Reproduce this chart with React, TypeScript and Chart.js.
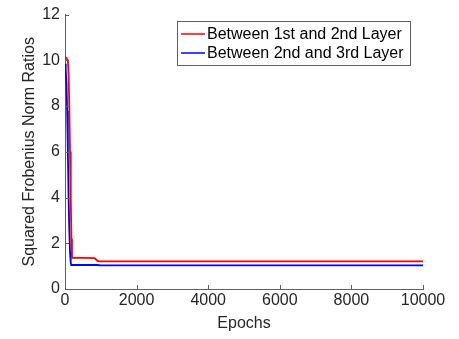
import React, { useEffect, useRef } from "react";
import { Chart, registerables } from "chart.js";

Chart.register(...registerables);

const seriesNames = ["Between 1st and 2nd Layer", "Between 2nd and 3rd Layer"];
const seriesColors = ["#ff0000", "#0000ff"];

const redEpochs = [0, 40, 80, 100, 120, 140, 160, 180, 195, 210, 500, 820, 860, 900, 940, 1000, 10000];
const redValues = [10.15, 10.1, 10.0, 9.4, 8.0, 6.0, 4.0, 2.2, 1.4, 1.36, 1.36, 1.35, 1.3, 1.24, 1.21, 1.21, 1.21];

const blueEpochs = [0, 20, 40, 60, 80, 100, 120, 140, 160, 175, 900, 1000, 10000];
const blueValues = [9.85, 9.6, 9.0, 7.8, 6.0, 4.0, 2.6, 1.6, 1.15, 1.05, 1.05, 1.03, 1.03];

const xTicks = [0, 2000, 4000, 6000, 8000, 10000];
const yTicks = [0, 2, 4, 6, 8, 10, 12];

const FONT = "'Liberation Sans', Arial, Helvetica, sans-serif";
const TEXT = "#262626";
const AXIS = "#606060";

const toPoints = (xs: number[], ys: number[]) => xs.map((x, i) => ({ x, y: ys[i] }));

const inwardTicks = {
  id: "inwardTicks",
  afterDatasetsDraw(chart: any) {
    const { ctx, chartArea, scales } = chart;
    ctx.save();
    ctx.strokeStyle = AXIS;
    ctx.lineWidth = 1;
    ctx.beginPath();
    xTicks.forEach((v) => {
      const px = Math.round(scales.x.getPixelForValue(v)) + 0.5;
      ctx.moveTo(px, chartArea.bottom);
      ctx.lineTo(px, chartArea.bottom - 4);
    });
    yTicks.forEach((v) => {
      const py = Math.round(scales.y.getPixelForValue(v)) + 0.5;
      ctx.moveTo(chartArea.left, py);
      ctx.lineTo(chartArea.left + 4, py);
    });
    ctx.stroke();
    ctx.restore();
  },
};

const boxLegend = {
  id: "boxLegend",
  afterDatasetsDraw(chart: any) {
    const { ctx } = chart;
    const x0 = 177.5, y0 = 21.5, w = 233, h = 44;
    ctx.save();
    ctx.fillStyle = "#ffffff";
    ctx.fillRect(x0, y0, w, h);
    ctx.strokeStyle = AXIS;
    ctx.lineWidth = 1;
    ctx.strokeRect(x0, y0, w, h);
    ctx.font = `16px ${FONT}`;
    ctx.textBaseline = "middle";
    ctx.textAlign = "left";
    seriesNames.forEach((name, i) => {
      const yy = 34 + i * 19;
      ctx.strokeStyle = seriesColors[i];
      ctx.lineWidth = 1.5;
      ctx.beginPath();
      ctx.moveTo(181, yy);
      ctx.lineTo(205, yy);
      ctx.stroke();
      ctx.fillStyle = "#000000";
      ctx.fillText(name, 207, yy + 1);
    });
    ctx.restore();
  },
};

export default function App() {
  const ref = useRef<HTMLCanvasElement>(null);
  useEffect(() => {
    if (!ref.current) return;
    const chart = new Chart(ref.current, {
      type: "line",
      data: {
        datasets: [
          {
            label: seriesNames[0],
            data: toPoints(redEpochs, redValues),
            borderColor: seriesColors[0],
            borderWidth: 1.8,
            pointRadius: 0,
            tension: 0,
          },
          {
            label: seriesNames[1],
            data: toPoints(blueEpochs, blueValues),
            borderColor: seriesColors[1],
            borderWidth: 1.8,
            pointRadius: 0,
            tension: 0,
          },
        ],
      },
      options: {
        animation: false,
        responsive: false,
        maintainAspectRatio: false,
        layout: { padding: { top: 13, right: 36, left: 0, bottom: 0 } },
        plugins: { legend: { display: false }, tooltip: { enabled: false } },
        scales: {
          x: {
            type: "linear",
            min: 0,
            max: 10000,
            afterFit: (s: any) => { s.height = 50; },
            afterBuildTicks: (s: any) => { s.ticks = xTicks.map((v) => ({ value: v })); },
            grid: { display: false, drawTicks: false },
            border: { display: true, color: AXIS, width: 1 },
            ticks: { color: TEXT, font: { family: FONT, size: 16 }, padding: 2, maxRotation: 0, callback: (v: any) => String(v) },
            title: { display: true, text: "Epochs", color: TEXT, font: { family: FONT, size: 16 }, padding: { top: 0, bottom: 6 } },
          },
          y: {
            type: "linear",
            min: 0,
            max: 12,
            afterFit: (s: any) => { s.width = 65; },
            afterBuildTicks: (s: any) => { s.ticks = yTicks.map((v) => ({ value: v })); },
            grid: { display: false, drawTicks: false },
            border: { display: true, color: AXIS, width: 1 },
            ticks: { color: TEXT, font: { family: FONT, size: 16 }, padding: 5, callback: (v: any) => String(v) },
            title: { display: true, text: "Squared Frobenius Norm Ratios", color: TEXT, font: { family: FONT, size: 16 }, padding: { top: 20, bottom: 0 } },
          },
        },
      },
      plugins: [inwardTicks, boxLegend],
    });
    return () => chart.destroy();
  }, []);
  return (
    <div style={{ position: "fixed", left: 0, top: 0, width: 459, height: 339, background: "#fff" }}>
      <canvas ref={ref} width={459} height={339} style={{ width: 459, height: 339 }} />
    </div>
  );
}
